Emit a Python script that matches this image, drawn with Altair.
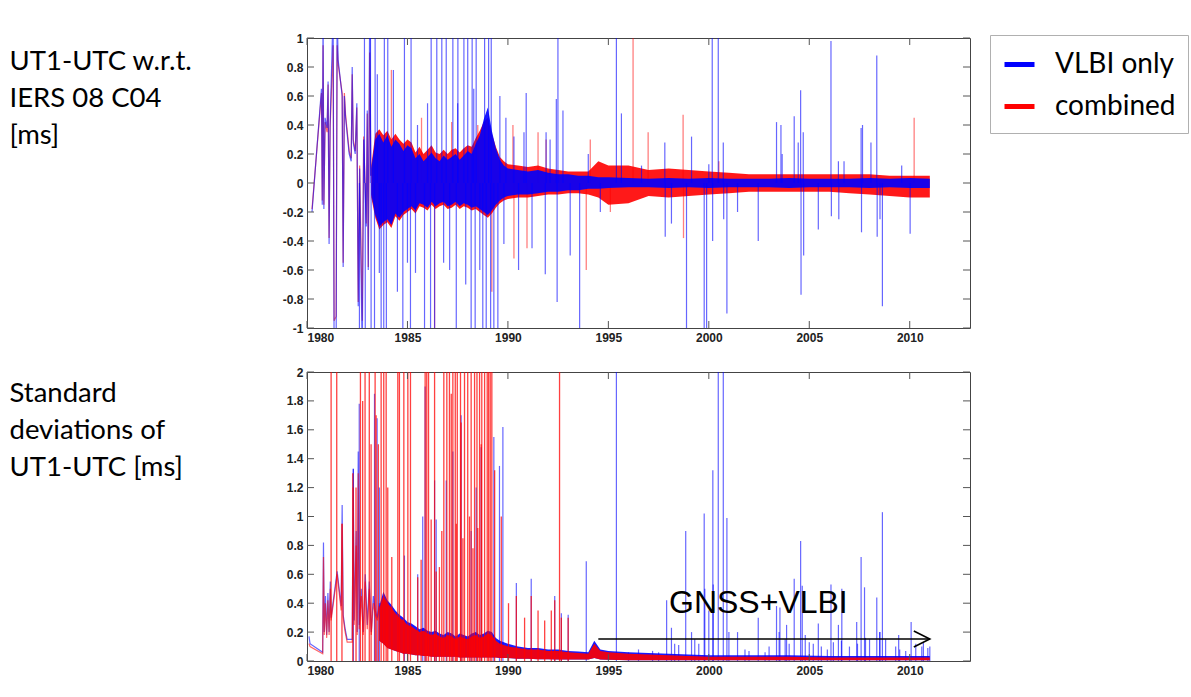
import altair as alt
import pandas as pd

SERIES = ["VLBI only", "combined"]
COLORS = ["#0000ff", "#ff0000"]

x_ticks = [1980, 1985, 1990, 1995, 2000, 2005, 2010]
top_y_ticks = [-1, -0.8, -0.6, -0.4, -0.2, 0, 0.2, 0.4, 0.6, 0.8, 1]
bot_y_ticks = [0, 0.2, 0.4, 0.6, 0.8, 1, 1.2, 1.4, 1.6, 1.8, 2]

top_title = ["UT1-UTC w.r.t.", "IERS 08 C04", "[ms]"]
bot_title = ["Standard", "deviations of", "UT1-UTC [ms]"]
annot_text = "GNSS+VLBI"
arrow_years = [1994.5, 2011.0]

# ---------------- top panel: UT1-UTC differences [ms] ----------------
top_band_years = [1983.2, 1983.4, 1983.6, 1983.8, 1984.0, 1984.2, 1984.4, 1984.6, 1984.8, 1985.0,
                  1985.2, 1985.4, 1985.6, 1985.8, 1986.0, 1986.2, 1986.4, 1986.6, 1986.8, 1987.0,
                  1987.2, 1987.4, 1987.6, 1987.8, 1988.0, 1988.2, 1988.4, 1988.6, 1988.8, 1989.0,
                  1989.2, 1989.4, 1989.6, 1989.8, 1990.0, 1990.5, 1991.0, 1991.5, 1992.0, 1992.5,
                  1993.0, 1993.5, 1994.0, 1994.5, 1995.0, 1996.0, 1997.0, 1998.0, 1999.0, 2000.0,
                  2001.0, 2002.0, 2003.0, 2004.0, 2005.0, 2006.0, 2007.0, 2008.0, 2009.0, 2010.0,
                  2011.0]
top_b_band_hi = [0.10, 0.30, 0.34, 0.28, 0.33, 0.25, 0.30, 0.27, 0.22, 0.26,
                 0.24, 0.17, 0.20, 0.15, 0.18, 0.21, 0.17, 0.15, 0.19, 0.16,
                 0.18, 0.20, 0.16, 0.19, 0.22, 0.20, 0.27, 0.33, 0.44, 0.52,
                 0.36, 0.24, 0.16, 0.12, 0.10, 0.09, 0.08, 0.09, 0.07, 0.06,
                 0.06, 0.05, 0.05, 0.04, 0.04, 0.035, 0.03, 0.035, 0.03, 0.035,
                 0.03, 0.03, 0.03, 0.035, 0.03, 0.03, 0.03, 0.035, 0.03, 0.035,
                 0.03]
top_b_band_lo = [-0.08, -0.22, -0.30, -0.27, -0.25, -0.29, -0.21, -0.24, -0.20, -0.18,
                 -0.16, -0.19, -0.14, -0.15, -0.17, -0.13, -0.16, -0.14, -0.13, -0.16,
                 -0.15, -0.13, -0.16, -0.14, -0.15, -0.17, -0.16, -0.18, -0.20, -0.22,
                 -0.19, -0.15, -0.12, -0.10, -0.09, -0.08, -0.08, -0.07, -0.06, -0.06,
                 -0.05, -0.05, -0.04, -0.04, -0.035, -0.03, -0.03, -0.035, -0.03, -0.035,
                 -0.03, -0.03, -0.03, -0.035, -0.03, -0.03, -0.03, -0.035, -0.03, -0.035,
                 -0.035]
top_r_band_hi = [0.12, 0.34, 0.37, 0.33, 0.36, 0.30, 0.34, 0.30, 0.27, 0.30,
                 0.28, 0.21, 0.25, 0.20, 0.23, 0.26, 0.21, 0.20, 0.23, 0.20,
                 0.23, 0.24, 0.21, 0.24, 0.26, 0.25, 0.31, 0.36, 0.42, 0.45,
                 0.34, 0.25, 0.18, 0.15, 0.13, 0.12, 0.11, 0.12, 0.10, 0.09,
                 0.08, 0.08, 0.08, 0.15, 0.12, 0.12, 0.09, 0.10, 0.09, 0.08,
                 0.07, 0.06, 0.06, 0.06, 0.06, 0.06, 0.06, 0.06, 0.05, 0.05,
                 0.05]
top_r_band_lo = [-0.10, -0.24, -0.32, -0.29, -0.27, -0.31, -0.23, -0.26, -0.22, -0.20,
                 -0.18, -0.21, -0.16, -0.17, -0.19, -0.15, -0.18, -0.16, -0.15, -0.18,
                 -0.17, -0.15, -0.18, -0.16, -0.17, -0.19, -0.18, -0.20, -0.22, -0.24,
                 -0.21, -0.17, -0.14, -0.12, -0.11, -0.10, -0.10, -0.09, -0.08, -0.08,
                 -0.07, -0.07, -0.08, -0.10, -0.15, -0.14, -0.09, -0.10, -0.09, -0.08,
                 -0.07, -0.06, -0.06, -0.06, -0.06, -0.06, -0.07, -0.08, -0.09, -0.10,
                 -0.10]

top_early_years = [1980.25, 1980.72, 1980.76, 1980.80, 1980.84, 1980.90, 1981.00, 1981.05, 1981.10, 1981.15,
                   1981.30, 1981.35, 1981.45, 1981.50, 1981.55, 1981.75, 1981.80, 1981.86, 1981.92, 1982.10,
                   1982.20, 1982.25, 1982.30, 1982.40, 1982.48, 1982.55, 1982.62, 1982.75, 1982.82, 1982.95,
                   1983.00, 1983.05, 1983.12, 1983.18]
top_b_early_vals = [-0.20, 0.65, -0.15, 1.2, -0.18, 0.45, 0.38, 0.70, -0.42, 0.40,
                    1.2, -1.2, -1.2, 1.2, 0.85, 0.60, -0.58, 0.60, 0.45, 0.20,
                    0.15, 0.80, 0.28, 0.20, 0.55, -0.85, 0.10, -1.2, 0.30, -0.30,
                    0.50, -0.60, 1.2, 0.05]
top_r_early_vals = [-0.18, 0.62, -0.12, 0.95, -0.15, 0.42, 0.35, 0.68, -0.38, 0.38,
                    0.95, -0.95, -0.92, 0.95, 0.82, 0.62, -0.55, 0.62, 0.47, 0.22,
                    0.17, 0.75, 0.30, 0.22, 0.52, -0.82, 0.12, -0.95, 0.32, -0.28,
                    0.48, -0.58, 0.90, 0.05]

top_b_spike_years = [1982.86, 1983.16, 1983.39, 1983.85, 1984.02, 1984.85, 1985.18, 1986.18, 1986.46, 1986.71,
                     1986.93, 1987.26, 1987.51, 1987.81, 1988.00, 1988.22, 1988.42, 1988.84, 1989.04, 1989.17,
                     1992.49, 1995.40,
                     1982.61, 1982.90, 1983.19, 1983.36, 1983.69, 1983.82, 1983.95, 1984.77, 1985.15, 1985.85,
                     1986.15, 1986.35, 1987.43, 1988.17, 1988.37, 1988.75, 1988.92, 1989.14, 1989.30, 1989.50,
                     1993.57,
                     1983.50, 1983.60, 1984.30, 1984.50, 1985.00, 1985.40, 1985.50, 1986.00, 1986.80, 1987.10,
                     1987.50, 1987.90, 1988.30, 1988.60, 1989.60, 1989.80, 1989.90, 1990.30, 1990.53, 1990.80,
                     1990.91, 1991.20, 1991.86, 1991.90, 1992.10, 1992.41, 1992.45, 1992.74, 1993.10, 1994.00,
                     1994.60, 1995.65, 1996.65, 1997.81, 1997.83, 1998.14, 1998.89, 1999.14, 1999.77, 1999.89,
                     2000.00, 2000.17, 2000.19, 2000.47, 2000.72, 2000.74, 2000.90, 2001.43, 2002.46, 2003.37,
                     2003.59, 2003.65, 2004.25, 2004.45, 2004.57, 2004.59, 2004.70, 2004.72, 2005.45, 2006.08,
                     2006.10, 2006.45, 2006.47, 2006.73, 2007.58, 2007.60, 2007.65, 2008.07, 2008.36, 2008.38,
                     2008.52, 2008.64, 2009.60, 2010.02]
top_b_spike_vals = [1.2, 1.2, 1.2, 1.2, 1.2, 1.2, 1.2, 1.2, 1.2, 1.2,
                    1.2, 1.2, 1.2, 1.2, 1.2, 1.2, 1.2, 1.2, 1.2, 1.2,
                    1.2, 1.2,
                    -1.2, -1.2, -1.2, -1.2, -1.2, -1.2, -1.2, -1.2, -1.2, -1.2,
                    -1.2, -1.2, -1.2, -1.2, -1.2, -1.2, -1.2, -1.2, -1.2, -1.2,
                    -1.2,
                    0.75, -0.62, 0.78, -0.75, -0.55, -0.62, 0.40, 0.55, -0.55, -0.60,
                    0.55, -0.70, 0.65, -0.60, 0.60, -0.42, 0.45, 0.32, -0.60, 0.35,
                    0.62, -0.45, -0.63, 0.35, 0.30, 0.58, -0.82, 0.50, -0.50, 0.20,
                    -0.20, 0.48, 0.12, 0.28, -0.37, -0.28, -1.2, 0.32, -1.2, -1.2,
                    0.13, 1.2, -0.40, 1.2, 0.28, -0.25, -0.90, -0.20, -0.40, 0.42,
                    0.40, 0.20, 0.46, 0.28, 0.64, -0.77, 0.35, -0.50, -0.32, 0.98,
                    -0.23, 0.15, -0.25, 0.15, 0.38, -0.34, 0.40, 0.28, 0.88, -0.37,
                    -0.25, -0.85, 0.12, -0.35]

top_r_spike_years = [1984.20, 1985.70, 1986.35, 1987.20, 1988.50, 1989.20, 1990.25, 1990.30, 1990.95, 1991.50,
                     1991.90, 1993.90, 1994.10, 1995.10, 1996.23, 1996.98, 1998.72, 1998.74, 2000.50, 2010.22]
top_r_spike_vals = [0.78, 0.45, -1.2, 0.42, 0.40, -0.75, 0.40, -0.52, -0.45, 0.35,
                    0.30, -0.60, 0.30, -0.20, 1.2, 0.35, 0.47, -0.38, 0.15, 0.45]

# ---------------- bottom panel: standard deviations [ms] ----------------
bot_band_years = [1983.6, 1983.8, 1984.0, 1984.2, 1984.4, 1984.6, 1984.8, 1985.0, 1985.2, 1985.4,
                  1985.6, 1985.8, 1986.0, 1986.2, 1986.4, 1986.6, 1986.8, 1987.0, 1987.2, 1987.4,
                  1987.6, 1987.8, 1988.0, 1988.2, 1988.4, 1988.6, 1988.8, 1989.0, 1989.2, 1989.4,
                  1989.6, 1989.8, 1990.0, 1990.5, 1991.0, 1991.5, 1992.0, 1992.5, 1993.0, 1993.5,
                  1994.0, 1994.3, 1994.6, 1995.0, 1996.0, 1997.0, 1998.0, 1999.0, 2000.0, 2002.0,
                  2004.0, 2006.0, 2008.0, 2010.0, 2011.0]
bot_r_band_hi = [0.36, 0.45, 0.40, 0.37, 0.33, 0.30, 0.28, 0.25, 0.24, 0.22,
                 0.20, 0.21, 0.19, 0.18, 0.19, 0.17, 0.16, 0.18, 0.17, 0.15,
                 0.17, 0.16, 0.15, 0.17, 0.18, 0.16, 0.17, 0.19, 0.18, 0.14,
                 0.12, 0.11, 0.10, 0.09, 0.08, 0.08, 0.07, 0.07, 0.06, 0.055,
                 0.05, 0.12, 0.07, 0.06, 0.05, 0.045, 0.04, 0.035, 0.03, 0.03,
                 0.03, 0.025, 0.025, 0.025, 0.025]
bot_r_band_lo = [0.14, 0.12, 0.09, 0.08, 0.07, 0.06, 0.05, 0.05, 0.045, 0.04,
                 0.04, 0.035, 0.035, 0.03, 0.03, 0.03, 0.03, 0.03, 0.03, 0.03,
                 0.025, 0.025, 0.025, 0.025, 0.025, 0.025, 0.025, 0.025, 0.025, 0.025,
                 0.02, 0.02, 0.02, 0.015, 0.015, 0.012, 0.012, 0.01, 0.01, 0.01,
                 0.01, 0.02, 0.01, 0.008, 0.006, 0.005, 0.005, 0.005, 0.005, 0.005,
                 0.005, 0.005, 0.005, 0.005, 0.005]
bot_b_band_hi = [0.38, 0.48, 0.42, 0.39, 0.35, 0.32, 0.30, 0.27, 0.26, 0.24,
                 0.22, 0.23, 0.21, 0.20, 0.21, 0.19, 0.18, 0.20, 0.19, 0.17,
                 0.19, 0.18, 0.17, 0.19, 0.20, 0.18, 0.19, 0.21, 0.20, 0.16,
                 0.14, 0.13, 0.12, 0.10, 0.09, 0.09, 0.08, 0.08, 0.07, 0.065,
                 0.06, 0.14, 0.08, 0.07, 0.06, 0.055, 0.05, 0.045, 0.04, 0.04,
                 0.04, 0.035, 0.035, 0.035, 0.035]
bot_b_band_lo = bot_r_band_lo

bot_early_years = [1980.10, 1980.15, 1980.78, 1980.82, 1980.86, 1980.92, 1980.98, 1981.04, 1981.10, 1981.16,
                   1981.20, 1981.50, 1981.70, 1981.75, 1981.80, 1981.90, 1982.00, 1982.25, 1982.30, 1982.35,
                   1982.45, 1982.50, 1982.55, 1982.60, 1982.70, 1982.80, 1982.90, 1983.00, 1983.10, 1983.20,
                   1983.30, 1983.40, 1983.50, 1983.60]
bot_b_early_vals = [0.17, 0.12, 0.06, 0.82, 0.20, 0.45, 0.18, 0.47, 0.20, 0.55,
                    0.30, 0.62, 0.38, 1.08, 0.32, 0.22, 0.15, 0.15, 1.33, 0.28,
                    0.90, 0.20, 1.45, 0.25, 0.50, 0.20, 0.60, 0.25, 0.55, 0.20,
                    0.45, 0.35, 0.30, 0.40]
bot_r_early_vals = [0.12, 0.10, 0.05, 0.72, 0.18, 0.40, 0.16, 0.42, 0.18, 0.50,
                    0.28, 0.60, 0.35, 0.95, 0.30, 0.20, 0.13, 0.13, 1.20, 0.25,
                    0.80, 0.18, 1.30, 0.22, 0.45, 0.18, 0.55, 0.22, 0.50, 0.18,
                    0.40, 0.32, 0.28, 0.38]

bot_r_spike_years = [1981.20, 1981.48, 1982.66, 1982.89, 1983.10, 1983.39, 1983.69, 1983.82, 1983.94, 1984.52,
                     1984.60, 1984.82, 1985.02, 1985.15, 1985.88, 1985.96, 1986.05, 1986.35, 1986.81, 1986.96,
                     1987.09, 1987.26, 1987.38, 1987.48, 1987.64, 1987.84, 1988.00, 1988.17, 1988.34, 1988.46,
                     1988.59, 1988.70, 1988.84, 1988.97, 1989.04, 1989.12, 1989.20, 1992.57,
                     1981.74, 1982.28, 1982.44, 1982.77, 1983.19, 1983.44, 1983.55, 1984.02, 1984.22, 1985.51,
                     1985.68, 1986.18, 1986.43, 1986.59, 1986.71, 1987.18, 1987.43, 1987.67, 1987.76, 1988.09,
                     1988.26, 1988.50, 1988.67, 1989.34, 1989.67, 1990.03, 1990.42, 1990.83, 1991.16, 1991.50,
                     1991.83, 1992.16, 1992.33, 1992.66, 1993.00]
bot_r_spike_vals = [2.2, 2.2, 2.2, 2.2, 2.2, 2.2, 2.2, 2.2, 2.2, 2.2,
                    2.2, 2.2, 2.2, 2.2, 2.2, 2.2, 2.2, 2.2, 2.2, 2.2,
                    2.2, 2.2, 2.2, 2.2, 2.2, 2.2, 2.2, 2.2, 2.2, 2.2,
                    2.2, 2.2, 2.2, 2.2, 2.2, 2.2, 2.2, 2.2,
                    0.95, 1.30, 1.20, 1.80, 1.50, 1.70, 1.50, 1.20, 0.72, 0.58,
                    0.70, 0.98, 0.62, 0.65, 0.90, 1.85, 0.95, 1.65, 0.85, 1.00,
                    0.78, 0.92, 1.50, 1.32, 1.00, 0.40, 0.45, 0.30, 0.45, 0.35,
                    0.28, 0.35, 0.42, 0.30, 0.30]

bot_b_spike_years = [1982.31, 1982.60, 1983.36, 1983.49, 1983.60, 1984.85, 1985.51, 1985.76, 1985.88, 1986.35,
                     1986.43, 1986.93, 1987.26, 1987.67, 1988.17, 1988.42, 1988.67, 1989.30, 1989.58, 1989.75,
                     1990.42, 1991.16, 1992.33, 1992.66, 1993.00, 1993.90, 1995.40,
                     1997.90, 1998.14, 1998.85, 1999.14, 1999.77, 1999.80, 2000.20, 2000.22, 2000.47, 2000.72,
                     2000.90, 2001.43, 2002.46, 2003.37, 2003.54, 2003.87, 2004.25, 2004.57, 2004.65, 2005.45,
                     2006.08, 2006.45, 2006.62, 2007.36, 2007.58, 2007.75, 2008.36, 2008.52, 2008.64, 2009.45,
                     2010.07, 2010.68, 2011.00,
                     1996.00, 1996.50, 1997.20, 1997.50, 1998.30, 1998.50, 1999.30, 1999.50, 2000.00, 2001.00,
                     2001.80, 2002.00, 2002.80, 2003.00, 2003.50, 2003.80, 2004.00, 2004.80, 2005.00, 2005.20,
                     2005.60, 2005.90, 2006.20, 2006.60, 2007.00, 2007.40, 2007.80, 2008.00, 2008.50, 2008.80,
                     2009.30, 2009.50, 2009.80, 2010.30, 2010.60, 2010.90]
bot_b_spike_vals = [1.33, 1.78, 1.85, 1.68, 1.20, 0.73, 0.60, 1.00, 1.90, 1.25,
                    0.98, 1.25, 1.45, 1.70, 0.90, 1.20, 1.48, 1.55, 1.35, 1.62,
                    0.54, 0.57, 0.45, 0.33, 0.32, 0.69, 2.2,
                    0.42, 0.23, 0.90, 0.20, 1.02, 0.50, 1.32, 0.53, 2.2, 2.2,
                    0.99, 0.20, 0.30, 0.38, 0.37, 0.25, 0.57, 0.83, 0.52, 0.26,
                    0.53, 0.25, 0.50, 0.27, 0.72, 0.51, 0.44, 0.20, 1.03, 0.18,
                    0.27, 0.13, 0.10,
                    0.06, 0.08, 0.07, 0.06, 0.12, 0.11, 0.15, 0.12, 0.35, 0.20,
                    0.08, 0.07, 0.06, 0.10, 0.20, 0.15, 0.12, 0.18, 0.13, 0.12,
                    0.10, 0.08, 0.13, 0.14, 0.10, 0.12, 0.16, 0.15, 0.20, 0.15,
                    0.10, 0.08, 0.07, 0.12, 0.10, 0.09]

# ---------------- layout / style ----------------
W = 663
H_TOP = 290
H_BOT = 289
XDOM = [1980, 2013]


def pts(years, vals, name):
    return pd.DataFrame({"year": years, "val": vals, "series": name})


def band(years, lo, hi, name):
    return pd.DataFrame({"year": years, "lo": lo, "hi": hi, "series": name})


xscale = alt.Scale(domain=XDOM, nice=False, zero=False)
x_axis = alt.Axis(values=x_ticks, format="d", title=None, tickSize=0, labelPadding=4)
X = alt.X("year:Q", scale=xscale, axis=x_axis)


def panel(ydom, yticks, title, title_y, H, color, layers_order, band_b, band_r, early_b, early_r,
          spk_b, spk_r, red_spike_opacity, with_annot=False):
    yscale = alt.Scale(domain=ydom, nice=False, zero=False)
    y_axis = alt.Axis(values=yticks, labelExpr="'' + datum.value", title=title, titleAngle=0,
                      titleAlign="left", titleBaseline="top", titleX=-298, titleY=title_y,
                      titleFont="Lato", titleFontSize=27.5, titleFontWeight="normal",
                      titleLineHeight=37, titleColor="black", tickSize=0, labelPadding=4)

    def Y(f):
        return alt.Y(f, scale=yscale, axis=y_axis)

    layers = {}
    layers["band_b"] = alt.Chart(band_b).mark_area(clip=True, opacity=0.9).encode(
        x=X, y=Y("lo:Q"), y2="hi:Q", color=color)
    layers["band_r"] = alt.Chart(band_r).mark_area(clip=True, opacity=0.9).encode(
        x=X, y=Y("lo:Q"), y2="hi:Q", color=color)
    layers["spk_b"] = alt.Chart(spk_b).mark_rule(clip=True, opacity=0.6, strokeWidth=1.2).encode(
        x=X, y=Y("val:Q"), y2=alt.datum(0), color=color)
    layers["spk_r"] = alt.Chart(spk_r).mark_rule(clip=True, opacity=red_spike_opacity, strokeWidth=1.3).encode(
        x=X, y=Y("val:Q"), y2=alt.datum(0), color=color)
    layers["early_b"] = alt.Chart(early_b).mark_line(clip=True, opacity=0.6, strokeWidth=1.2).encode(
        x=X, y=Y("val:Q"), color=color)
    layers["early_r"] = alt.Chart(early_r).mark_line(clip=True, opacity=0.6, strokeWidth=1.2).encode(
        x=X, y=Y("val:Q"), color=color)

    tx = pd.DataFrame({"year": x_ticks})
    ty = pd.DataFrame({"val": yticks})
    tick_col = "#555555"
    ticks = [
        alt.Chart(tx).mark_rule(color=tick_col).encode(x=X, y=alt.value(0), y2=alt.value(7)),
        alt.Chart(tx).mark_rule(color=tick_col).encode(x=X, y=alt.value(H - 7), y2=alt.value(H)),
        alt.Chart(ty).mark_rule(color=tick_col).encode(y=Y("val:Q"), x=alt.value(0), x2=alt.value(7)),
        alt.Chart(ty).mark_rule(color=tick_col).encode(y=Y("val:Q"), x=alt.value(W - 7), x2=alt.value(W)),
    ]
    extra = []
    if with_annot:
        arrow_df = pd.DataFrame({"year": arrow_years})
        extra = [
            alt.Chart(arrow_df).mark_line(color="black", strokeWidth=1.6).encode(x=X, y=alt.value(267)),
            alt.Chart(arrow_df.tail(1)).mark_point(shape="M-2,-1L0,0L-2,1", filled=False, color="black",
                                                   strokeWidth=1.6, size=256, opacity=1).encode(
                x=X, y=alt.value(267)),
            alt.Chart(pd.DataFrame({"label": [annot_text]})).mark_text(
                font="Liberation Sans", fontSize=32, align="left", baseline="middle", color="black").encode(
                text="label:N", x=alt.value(362), y=alt.value(231)),
        ]
    ordered = [layers[k] for k in layers_order] + ticks + extra
    return alt.layer(*ordered).properties(width=W, height=H)


legend = alt.Legend(orient="none", legendX=683, legendY=-3, title=None, symbolType="stroke",
                    symbolStrokeWidth=5, symbolSize=900, symbolOpacity=1,
                    labelFont="Lato", labelFontSize=28, labelColor="black", labelOffset=18,
                    rowPadding=10, padding=12, strokeColor="#b0b0b0", fillColor="white",
                    labelLimit=300)
color_top = alt.Color("series:N", scale=alt.Scale(domain=SERIES, range=COLORS), legend=legend)
color_bot = alt.Color("series:N", scale=alt.Scale(domain=SERIES, range=COLORS), legend=None)

top = panel([-1, 1], top_y_ticks, top_title, 9, H_TOP, color_top,
            ["band_r", "spk_r", "early_r", "band_b", "spk_b", "early_b"],
            band(top_band_years, top_b_band_lo, top_b_band_hi, SERIES[0]),
            band(top_band_years, top_r_band_lo, top_r_band_hi, SERIES[1]),
            pts(top_early_years, top_b_early_vals, SERIES[0]),
            pts(top_early_years, top_r_early_vals, SERIES[1]),
            pts(top_b_spike_years, top_b_spike_vals, SERIES[0]),
            pts(top_r_spike_years, top_r_spike_vals, SERIES[1]),
            0.5)

bottom = panel([0, 2], bot_y_ticks, bot_title, 7, H_BOT, color_bot,
               ["band_b", "spk_b", "early_b", "band_r", "spk_r", "early_r"],
               band(bot_band_years, bot_b_band_lo, bot_b_band_hi, SERIES[0]),
               band(bot_band_years, bot_r_band_lo, bot_r_band_hi, SERIES[1]),
               pts(bot_early_years, bot_b_early_vals, SERIES[0]),
               pts(bot_early_years, bot_r_early_vals, SERIES[1]),
               pts(bot_b_spike_years, bot_b_spike_vals, SERIES[0]),
               pts(bot_r_spike_years, bot_r_spike_vals, SERIES[1]),
               0.75, with_annot=True)

chart = alt.vconcat(top, bottom, spacing=21).resolve_scale(color="independent").properties(
    padding={"left": 8, "top": 31, "right": 0, "bottom": 5},
    background="white",
).configure_view(stroke="#444444", strokeWidth=1).configure_axis(
    labelFont="Liberation Sans", labelFontSize=12, labelFontWeight="bold", labelColor="#222222",
    domain=False, grid=False, ticks=False)

chart.save("out.html", embed_options={"renderer": "svg", "actions": False})
